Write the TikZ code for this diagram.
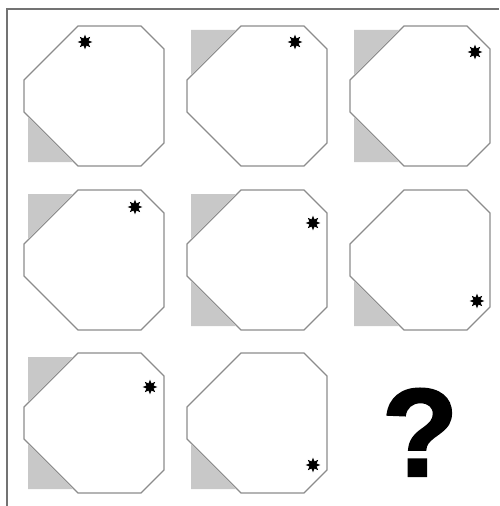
\documentclass[tikz,border=0pt]{standalone}
\usepackage{fontspec}
\newfontfamily\qfont[BoldFeatures={FakeBold=1.6}]{Liberation Sans}
\usepackage{xcolor}
\usetikzlibrary{shapes.geometric,positioning}

\definecolor{edgegray}{RGB}{140,140,140}
\definecolor{framegray}{RGB}{115,115,115}
\definecolor{cornergray}{RGB}{200,200,200}

\begin{document}
\begin{tikzpicture}[
    x=0.75pt, y=-0.75pt,
    octa/.style={draw=edgegray, line width=0.85pt, fill=white, line join=miter},
    corner/.style={fill=cornergray},
    starmark/.style={star, star points=8, star point ratio=1.9, fill=black, inner sep=0pt, minimum size=11pt},
    qmark/.style={font=\qfont\bfseries\fontsize{94}{94}\selectfont, inner sep=0pt, anchor=base},
    frame/.style={draw=framegray, line width=1pt}
]
    \useasboundingbox (0,0) rectangle (499,506);
    % outer frame (left and top only)
    \draw[frame] (7,506) -- (7,9) -- (499,9);

    % cells: origin / star / grey top-left / grey bottom-left / id
    \foreach \cx/\cy/\sx/\sy/\tl/\bl/\n in {
        24/26/61/16/0/1/1, 187/26/108/16/1/0/2, 350/26/125/26/1/1/3,
        24/190/111/17/1/0/4, 187/190/126/33/1/1/5, 350/190/127/111/0/1/6,
        24/353/126/34/1/1/7, 187/353/126/112/0/1/8} {
      \begin{scope}[shift={(\cx,\cy)}]
        \draw[octa] (54,0) -- (117,0) -- (140,23) -- (140,117) -- (117,140)
            -- (54,140) -- (0,86) -- (0,54) -- cycle;
        \ifnum\tl=1 \fill[corner] (4,4) -- (49,4) -- (4,49) -- cycle; \fi
        \ifnum\bl=1 \fill[corner] (4,91) -- (4,136) -- (49,136) -- cycle; \fi
        \node[starmark] (star\n) at (\sx,\sy) {};
      \end{scope}
    }

    % missing cell
    \node[qmark] (qmark) at (420,476) {?};
\end{tikzpicture}
\end{document}
